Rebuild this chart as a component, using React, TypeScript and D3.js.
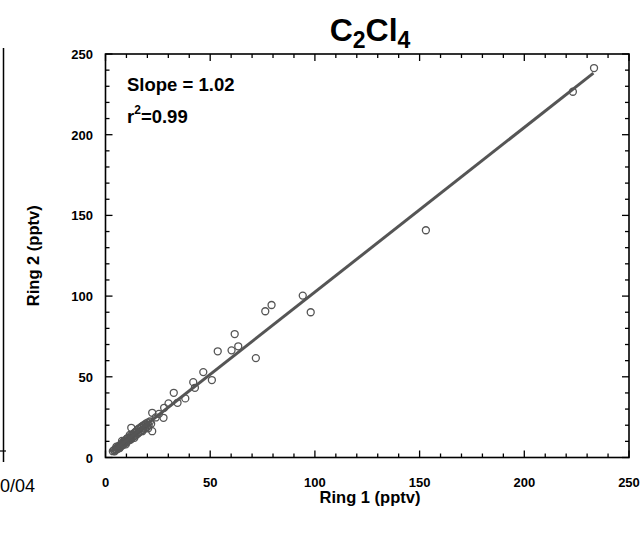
import React from "react";
import * as d3 from "d3";

// Ring 1 vs Ring 2 C2Cl4 mixing ratios (pptv)
const ring1 = [
  3.5, 4.0, 4.4, 4.8, 5.1, 5.5, 5.9, 6.2, 6.6, 7.0, 7.3, 7.7, 8.1, 8.4, 8.8, 9.1, 9.5, 9.9, 10.2, 10.6,
  11.0, 11.4, 11.7, 12.1, 12.5, 12.9, 13.3, 13.6, 14.0, 14.4, 14.8, 15.2, 15.5, 15.9, 16.3, 16.7, 17.1, 17.5, 17.9, 18.3,
  18.8, 19.2, 19.7, 20.1, 20.6, 21.2, 5.2, 6.8, 8.6, 10.4, 12.2, 14.2, 15.8, 17.6, 19.4,
  7.9, 11.6, 13.8, 16.9, 18.6, 9.7, 20.4, 21.8, 24.0, 25.5,
  12.3, 22.3, 22.3, 27.7, 28.0, 30.1, 34.4, 38.1, 32.6, 42.7, 41.9, 46.7, 50.8, 53.6,
  71.8, 60.2, 63.4, 61.7, 76.3, 79.3, 98.0, 94.2, 153.0, 223.2, 233.3,
];
const ring2 = [
  3.9, 4.6, 3.8, 5.3, 4.7, 6.1, 5.4, 7.0, 6.3, 7.8, 6.9, 8.4, 7.5, 9.3, 8.2, 10.1, 9.0, 11.2, 9.6, 11.8,
  10.5, 12.4, 11.0, 13.5, 12.1, 14.2, 12.8, 15.1, 13.4, 16.0, 14.2, 16.9, 14.9, 17.6, 15.8, 18.3, 16.5, 19.4, 17.2, 20.1,
  18.0, 21.0, 18.9, 21.6, 19.7, 22.3, 6.7, 5.9, 9.9, 11.9, 11.3, 15.5, 17.9, 16.3, 20.2,
  10.3, 14.0, 12.2, 18.8, 19.5, 8.1, 18.1, 20.9, 24.8, 27.0,
  18.4, 27.7, 16.3, 24.6, 30.8, 33.5, 33.9, 36.6, 40.1, 43.2, 46.7, 52.9, 48.0, 65.8,
  61.6, 66.4, 68.9, 76.5, 90.6, 94.5, 90.0, 100.3, 140.8, 226.6, 241.3,
];
const fitSlope = 1.02;
const fitIntercept = 0.5;
const fitRange = [3, 233];
const majorTicks = [0, 50, 100, 150, 200, 250];
const minorTicks = d3.range(0, 251, 10);

const W = 644, H = 533;
const left = 105.5, right = 629, top = 54, bottom = 457.5;
const font = "'Liberation Sans', Arial, sans-serif";
const grey = "#555";

export default function App() {
  const x = d3.scaleLinear().domain([0, 250]).range([left, right]);
  const y = d3.scaleLinear().domain([0, 250]).range([bottom, top]);
  const fitLine = d3.line<number>().x(d => x(d)).y(d => y(fitSlope * d + fitIntercept));

  return (
    <svg width={W} height={H} style={{ position: "absolute", left: 0, top: 0, background: "#fff" }}>
      {/* edge of the neighbouring panel */}
      <line x1={3.5} x2={3.5} y1={48} y2={462} stroke="#000" strokeWidth={1.5} />
      <line x1={0} x2={6} y1={451} y2={451} stroke="#000" strokeWidth={1.2} />
      <text x={0} y={492} fontFamily={font} fontSize={18}>0/04</text>

      {/* points */}
      <g fill="none" stroke={grey} strokeWidth={1.3}>
        {ring1.map((v, i) => (
          <circle key={i} cx={x(v)} cy={y(ring2[i])} r={3.5} />
        ))}
      </g>
      <path d={fitLine(fitRange) || ""} stroke={grey} strokeWidth={3} fill="none" />

      {/* frame + ticks */}
      <g stroke="#000" strokeWidth={1.3}>
        {minorTicks.map(t => {
          const len = t % 50 === 0 ? 7 : 4;
          return (
            <g key={t}>
              <line x1={x(t)} x2={x(t)} y1={bottom} y2={bottom - len} />
              <line x1={x(t)} x2={x(t)} y1={top} y2={top + len} />
              <line x1={left} x2={left + len} y1={y(t)} y2={y(t)} />
              <line x1={right} x2={right - len} y1={y(t)} y2={y(t)} />
            </g>
          );
        })}
        <rect x={left} y={top} width={right - left} height={bottom - top} fill="none" strokeWidth={1.6} />
      </g>

      {/* tick labels */}
      <g fontFamily={font} fontSize={13} fontWeight="bold">
        {majorTicks.map(t => (
          <text key={"x" + t} x={x(t)} y={487} textAnchor="middle">{t}</text>
        ))}
        {majorTicks.map(t => (
          <text key={"y" + t} x={93} y={y(t) + 5} textAnchor="end">{t}</text>
        ))}
      </g>

      <text x={370} y={503} textAnchor="middle" fontFamily={font} fontSize={16.5} fontWeight="bold">Ring 1 (pptv)</text>
      <text transform={`translate(39,${(top + bottom) / 2}) rotate(-90)`} textAnchor="middle" fontFamily={font} fontSize={16.5} fontWeight="bold">Ring 2 (pptv)</text>

      <text x={370} y={41} textAnchor="middle" fontFamily={font} fontSize={32} fontWeight="bold">
        C<tspan fontSize={23} dy={7}>2</tspan><tspan dy={-7}>Cl</tspan><tspan fontSize={23} dy={7}>4</tspan>
      </text>

      <g fontFamily={font} fontWeight="bold" fontSize={18.5}>
        <text x={127} y={91}>Slope = 1.02</text>
        <text x={127} y={123}>r<tspan fontSize={12} dy={-9}>2</tspan><tspan dy={9}>=0.99</tspan></text>
      </g>
    </svg>
  );
}
